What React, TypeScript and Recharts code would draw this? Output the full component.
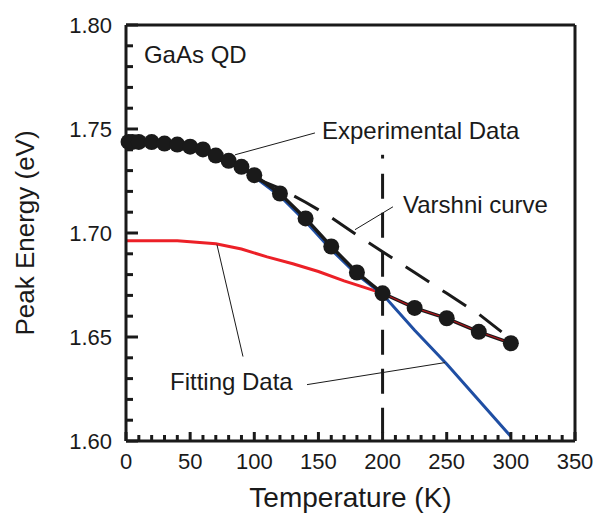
import {
  LineChart,
  Line,
  XAxis,
  YAxis,
  ReferenceLine,
  ReferenceDot,
} from 'recharts';

// Experimental PL peak energy (eV) vs temperature (K)
const expTemps = [2, 5, 10, 20, 30, 40, 50, 60, 70, 80, 90, 100, 120, 140, 160, 180, 200, 225, 250, 275, 300];
const expEnergy = [
  1.7438, 1.7438, 1.7438, 1.7437, 1.743, 1.7425, 1.7415, 1.7402, 1.7372, 1.7347, 1.7318, 1.7278,
  1.719, 1.707, 1.6935, 1.681, 1.671, 1.664, 1.659, 1.6525, 1.647,
];

// Fitting data (red, low-temperature branch)
const fitTemps = [0, 20, 40, 70, 90, 110, 130, 150, 170, 190, 200];
const fitEnergy = [1.6963, 1.6963, 1.6963, 1.6948, 1.6923, 1.6885, 1.6852, 1.6815, 1.677, 1.673, 1.671];

// Fitting data continued above 200 K (drawn thin over the experimental line)
const fitHighTemps = [200, 225, 250, 275, 300];
const fitHighEnergy = [1.671, 1.664, 1.659, 1.6525, 1.647];

// Fitting data (blue)
const blueTemps = [90, 100, 120, 140, 160, 180, 200, 225, 250, 275, 300];
const blueEnergy = [1.7315, 1.727, 1.7178, 1.7055, 1.692, 1.68, 1.6705, 1.6532, 1.637, 1.6196, 1.6022];

// Varshni curve
const varshniTemps = [100, 120, 140, 160, 180, 200, 225, 250, 275, 300];
const varshniEnergy = [1.7265, 1.7215, 1.7148, 1.7075, 1.699, 1.691, 1.681, 1.671, 1.661, 1.649];

const xTicks = [0, 10, 20, 30, 40, 50, 60, 70, 80, 90, 100, 110, 120, 130, 140, 150, 160, 170, 180, 190, 200,
  210, 220, 230, 240, 250, 260, 270, 280, 290, 300, 310, 320, 330, 340, 350];
const yTicks = [1.6, 1.61, 1.62, 1.63, 1.64, 1.65, 1.66, 1.67, 1.68, 1.69, 1.7, 1.71, 1.72, 1.73, 1.74,
  1.75, 1.76, 1.77, 1.78, 1.79, 1.8];
const yMajor = [1.6, 1.65, 1.7, 1.75, 1.8];

const zip = (t: number[], e: number[]) => t.map((T, i) => ({ T, E: e[i] }));

const expData = zip(expTemps, expEnergy);
const fitData = zip(fitTemps, fitEnergy);
const fitHighData = zip(fitHighTemps, fitHighEnergy);
const blueData = zip(blueTemps, blueEnergy);
const varshniData = zip(varshniTemps, varshniEnergy);

const FONT = '"Liberation Sans", Arial, Helvetica, sans-serif';
const INK = '#1a1a1a';

const isXMajor = (v: number) => v % 50 === 0;
const isYMajor = (v: number) => yMajor.some((m) => Math.abs(m - v) < 1e-6);

// inward tick marks, labels only on the major ones
const XTick = (props: any) => {
  const { x, y, payload } = props;
  const major = isXMajor(payload.value);
  return (
    <g>
      <line x1={x} x2={x} y1={y} y2={y - (major ? 9 : 6)} stroke={INK} strokeWidth={3} />
      {major && (
        <text x={x} y={y + 28} textAnchor="middle" fontSize={22} fontFamily={FONT} fill={INK}>
          {payload.value}
        </text>
      )}
    </g>
  );
};

const YTick = (props: any) => {
  const { x, y, payload } = props;
  const major = isYMajor(payload.value);
  return (
    <g>
      <line x1={x} x2={x + (major ? 12 : 7)} y1={y} y2={y} stroke={INK} strokeWidth={3} />
      {major && (
        <text x={x - 14} y={y + 8} textAnchor="end" fontSize={22} fontFamily={FONT} fill={INK}>
          {payload.value.toFixed(2)}
        </text>
      )}
    </g>
  );
};

const note = (text: string) => ({
  value: text,
  position: 'right' as const,
  offset: 0,
  fill: INK,
  fontSize: 24,
  fontFamily: FONT,
});

export default function App() {
  return (
    <div style={{ position: 'absolute', left: 0, top: 0, background: '#fff' }}>
      <LineChart width={596} height={513} margin={{ top: 25, right: 21, bottom: 11, left: 0 }}>
        <XAxis
          type="number"
          dataKey="T"
          domain={[0, 350]}
          ticks={xTicks}
          interval={0}
          tickSize={0}
          tickMargin={0}
          tickLine={false}
          tick={<XTick />}
          height={61}
          axisLine={{ stroke: INK, strokeWidth: 3 }}
          label={{
            content: () => (
              <text x={350.5} y={506.5} textAnchor="middle" fontSize={28} fontFamily={FONT} fill={INK}>
                Temperature (K)
              </text>
            ),
          }}
        />
        <YAxis
          type="number"
          dataKey="E"
          domain={[1.6, 1.8]}
          ticks={yTicks}
          interval={0}
          tickSize={0}
          tickMargin={0}
          tickLine={false}
          tick={<YTick />}
          width={126}
          axisLine={{ stroke: INK, strokeWidth: 3 }}
          label={{
            content: () => (
              <text
                x={34}
                y={233}
                transform="rotate(-90, 34, 233)"
                textAnchor="middle"
                fontSize={26}
                fontFamily={FONT}
                fill={INK}
              >
                Peak Energy (eV)
              </text>
            ),
          }}
        />

        {/* frame */}
        <ReferenceLine y={1.8} stroke={INK} strokeWidth={3} />
        <ReferenceLine x={350} stroke={INK} strokeWidth={3} />

        {/* 200 K dash-dot marker */}
        <ReferenceLine
          segment={[{ x: 200, y: 1.7376 }, { x: 200, y: 1.7358 }]}
          stroke={INK}
          strokeWidth={3}
        />
        <ReferenceLine
          segment={[{ x: 200, y: 1.7285 }, { x: 200, y: 1.6 }]}
          stroke={INK}
          strokeWidth={3}
          strokeDasharray="25 14"
        />

        <Line data={fitData} dataKey="E" stroke="#ec2027" strokeWidth={3} dot={false} isAnimationActive={false} />
        <Line data={blueData} dataKey="E" stroke="#1f4ea3" strokeWidth={3} dot={false} isAnimationActive={false} />
        <Line
          data={varshniData}
          dataKey="E"
          stroke={INK}
          strokeWidth={3}
          strokeDasharray="28 16"
          dot={false}
          isAnimationActive={false}
        />
        <Line data={expData} dataKey="E" stroke={INK} strokeWidth={3.5} dot={false} isAnimationActive={false} />
        <Line data={fitHighData} dataKey="E" stroke="#b3161c" strokeWidth={1.2} dot={false} isAnimationActive={false} />
        <Line
          data={expData}
          dataKey="E"
          stroke="none"
          dot={{ r: 8, fill: INK, stroke: INK, strokeWidth: 0 }}
          isAnimationActive={false}
        />

        {/* leader lines */}
        <ReferenceLine segment={[{ x: 85, y: 1.7376 }, { x: 147.3, y: 1.7481 }]} stroke={INK} strokeWidth={1} />
        <ReferenceLine segment={[{ x: 178.5, y: 1.7016 }, { x: 208.1, y: 1.7126 }]} stroke={INK} strokeWidth={1} />
        <ReferenceLine segment={[{ x: 70.9, y: 1.6944 }, { x: 91.2, y: 1.6406 }]} stroke={INK} strokeWidth={1} />
        <ReferenceLine segment={[{ x: 141.1, y: 1.6271 }, { x: 248.7, y: 1.6377 }]} stroke={INK} strokeWidth={1} />

        {/* annotations */}
        <ReferenceDot x={14} y={1.7856} r={0} stroke="none" label={note('GaAs QD')} />
        <ReferenceDot x={152.8} y={1.7491} r={0} stroke="none" label={note('Experimental Data')} />
        <ReferenceDot x={215.9} y={1.7136} r={0} stroke="none" label={note('Varshni curve')} />
        <ReferenceDot x={34.3} y={1.6286} r={0} stroke="none" label={note('Fitting Data')} />
      </LineChart>
    </div>
  );
}
